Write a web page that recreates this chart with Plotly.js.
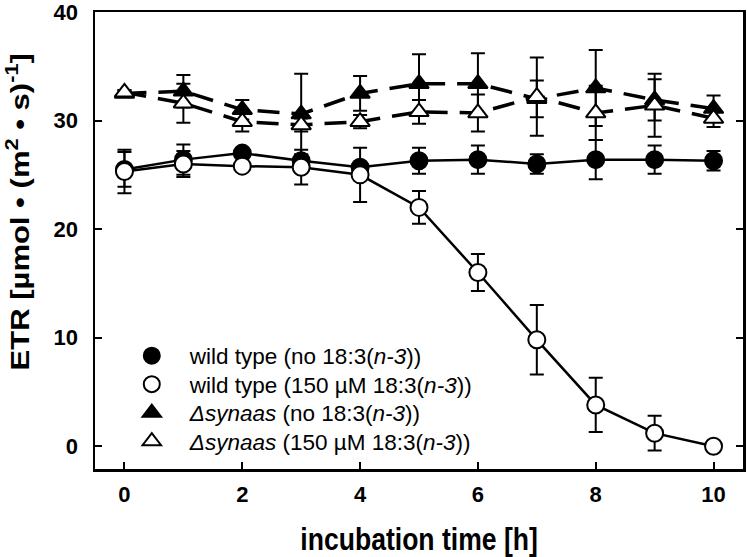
<!DOCTYPE html>
<html>
<head>
<meta charset="utf-8">
<script src="https://cdn.plot.ly/plotly-3.0.1.min.js"></script>
<style>html,body{margin:0;padding:0;background:#fff;}#chart{width:747px;height:557px;}</style>
</head>
<body>
<div id="chart"></div>
<script>
var time = [0, 1, 2, 3, 4, 5, 6, 7, 8, 9, 10];
var wtCtrl = [25.5, 26.4, 27.0, 26.3, 25.7, 26.3, 26.4, 26.0, 26.4, 26.4, 26.3];
var wtCtrlErr = [1.6, 1.4, 0.3, 0.5, 0.4, 1.2, 1.3, 0.9, 1.8, 1.3, 0.9];
var wtFa = [25.3, 26.0, 25.8, 25.7, 25.0, 22.0, 16.0, 9.8, 3.8, 1.2, 0.0];
var wtFaErr = [2.0, 1.2, 0.3, 1.6, 2.5, 1.5, 1.7, 3.2, 2.5, 1.6, 0.2];
var synCtrl = [32.5, 32.7, 31.0, 30.6, 32.5, 33.4, 33.4, 32.0, 33.0, 31.9, 31.1];
var synCtrlErr = [0.3, 1.5, 0.9, 3.7, 1.6, 2.7, 2.8, 1.7, 3.5, 1.9, 1.2];
var synFa = [32.6, 31.6, 29.9, 29.6, 29.9, 30.8, 30.7, 32.2, 30.7, 31.4, 30.2];
var synFaErr = [0.2, 1.8, 0.9, 0.6, 0.6, 1.1, 1.7, 3.6, 2.5, 2.9, 0.8];
var seriesNames = [
  'wild type (no 18:3(<i>n-3</i>))',
  'wild type (150 µM 18:3(<i>n-3</i>))',
  '<i>Δsynaas</i> (no 18:3(<i>n-3</i>))',
  '<i>Δsynaas</i> (150 µM 18:3(<i>n-3</i>))'
];
var xTicks = [0, 2, 4, 6, 8, 10];
var yTicks = [0, 10, 20, 30, 40];

var SANS = 'Liberation Sans, Arial, sans-serif';
function mk(y, err, symbol, fill, dash, lw) {
  return {
    x: time, y: y, type: 'scatter', mode: 'lines+markers', showlegend: false,
    line: {color: '#000', width: lw, dash: dash},
    marker: {symbol: symbol, size: 17, color: fill, line: {color: '#000', width: 2}},
    error_y: {type: 'data', array: err, visible: true, color: '#000', thickness: 2, width: 7}
  };
}
function lg(name, symbol, fill, legendId) {
  return {
    x: [null], y: [null], type: 'scatter', mode: 'markers', name: name, showlegend: true,
    legend: legendId,
    marker: {symbol: symbol, size: 17, color: fill, line: {color: '#000', width: 2}}
  };
}
var data = [
  mk(wtCtrl, wtCtrlErr, 'circle', '#000', 'solid', 2.5),
  mk(wtFa, wtFaErr, 'circle', '#fff', 'solid', 2.5),
  mk(synCtrl, synCtrlErr, 'triangle-up', '#000', '22px,12px', 3.5),
  mk(synFa, synFaErr, 'triangle-up', '#fff', '22px,12px', 3.5),
  lg(seriesNames[0], 'circle', '#000', 'legend'),
  lg(seriesNames[1], 'circle', '#fff', 'legend2'),
  lg(seriesNames[2], 'triangle-up', '#000', 'legend3'),
  lg(seriesNames[3], 'triangle-up', '#fff', 'legend4')
];
function legendAt(yPx) {
  return {
    x: 0.029, y: (469 - yPx) / 457, xanchor: 'left', yanchor: 'middle',
    bgcolor: 'rgba(0,0,0,0)', itemwidth: 66,
    font: {family: SANS, size: 22.5, color: '#000'}
  };
}
var layout = {
  width: 747, height: 557,
  margin: {l: 95, r: 4, t: 12, b: 88},
  paper_bgcolor: '#fff', plot_bgcolor: '#fff',
  font: {family: SANS, color: '#000'},
  xaxis: {
    range: [-0.5, 10.5], tickvals: xTicks, ticktext: xTicks.map(String),
    ticks: 'inside', ticklen: 7, tickwidth: 2, tickcolor: '#000',
    showline: true, linewidth: 2.5, linecolor: '#000', mirror: true,
    showgrid: false, zeroline: false, ticklabelstandoff: 4, ticklabeloverflow: 'allow',
    tickfont: {family: SANS, size: 22, weight: 'bold'}
  },
  yaxis: {
    range: [-2.1, 40], tickvals: yTicks, ticktext: yTicks.map(String),
    ticks: 'inside', ticklen: 7, tickwidth: 2, tickcolor: '#000',
    showline: true, linewidth: 2.5, linecolor: '#000', mirror: 'ticks',
    showgrid: false, zeroline: false, ticklabelstandoff: 10, ticklabeloverflow: 'allow',
    tickfont: {family: SANS, size: 22, weight: 'bold'}
  },
  showlegend: true,
  legend: legendAt(356),
  legend2: legendAt(384.5),
  legend3: legendAt(413),
  legend4: legendAt(441.5),
  annotations: [
    {xref: 'paper', yref: 'paper', x: -0.118, y: 0.562, xanchor: 'center', yanchor: 'middle',
     textangle: -90, showarrow: false,
     text: 'ETR [µmol • (m<sup>2</sup> • s)<sup>-1</sup>]',
     font: {family: SANS, size: 25, weight: 'bold'}},
    {xref: 'paper', yref: 'paper', x: 0.5, y: -0.153, xanchor: 'center', yanchor: 'middle',
     showarrow: false, text: 'incubation time [h]',
     font: {family: SANS, size: 32, weight: 'bold'}}
  ]
};
Plotly.newPlot('chart', data, layout, {displayModeBar: false, staticPlot: true}).then(function (gd) {
  // stretch the axis titles the way the reference draws them (taller than wide)
  var texts = gd.querySelectorAll('.annotation-text');
  var scales = [1.24, 0.83];
  texts.forEach(function (t, i) {
    var bb = t.getBBox();
    var cx = bb.x + bb.width / 2;
    var prev = t.getAttribute('transform') || '';
    t.setAttribute('transform', prev + ' translate(' + cx + ',0) scale(' + scales[i] + ',1) translate(' + (-cx) + ',0)');
  });
});
</script>
</body>
</html>
